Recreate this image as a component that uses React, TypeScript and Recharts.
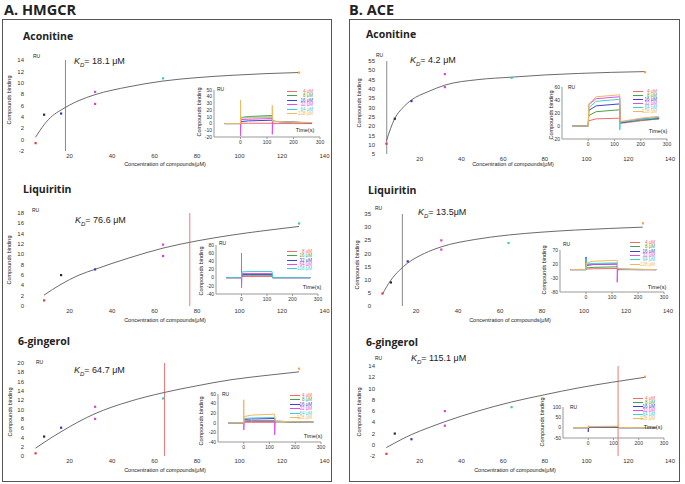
import React from 'react';
import {
  ComposedChart,
  LineChart,
  Line,
  Scatter,
  XAxis,
  YAxis,
  ReferenceLine,
  Cell,
} from 'recharts';

// ---- main binding curves: concentration (μM) vs response (RU) ----
const FIT_X = [4, 8, 12, 16, 24, 32, 48, 64, 80, 96, 112, 128];
const FIT_X_LIQ_A = [8, 12, 16, 24, 32, 48, 64, 80, 96, 112, 128];

const A1_CONC = [4, 8, 16, 32, 32, 64, 128];
const A1_RU = [-0.6, 4.4, 4.6, 8.4, 6.3, 10.8, 11.8];
const A1_FIT = [0.4, 2.6, 4.2, 5.2, 6.8, 7.9, 9.3, 10.3, 10.9, 11.3, 11.6, 11.8];

const A2_CONC = [8, 16, 32, 64, 64, 128];
const A2_RU = [1.1, 6.0, 7.1, 11.9, 9.7, 16.0];
const A2_FIT = [2.1, 3.2, 4.2, 5.9, 7.1, 9.3, 11.2, 12.6, 13.7, 14.6, 15.4];

const A3_CONC = [4, 8, 16, 32, 32, 64, 128];
const A3_RU = [0.6, 4.2, 6.1, 10.6, 8.0, 12.4, 18.8];
const A3_FIT = [1.7, 2.9, 4.1, 5.2, 7.3, 9.1, 11.7, 13.6, 15.1, 16.4, 17.3, 18.1];

const B1_CONC = [4, 8, 16, 32, 32, 64, 128];
const B1_RU = [10.6, 24, 33.5, 48, 41, 46, 49];
const B1_FIT = [12, 24, 30, 34, 38.5, 42, 45, 46.3, 47.5, 48.3, 48.9, 49.3];

const B2_CONC = [4, 8, 16, 32, 32, 64, 128];
const B2_RU = [4.8, 9, 17, 25, 21.5, 24, 31.5];
const B2_FIT = [4.5, 9.8, 13.5, 16.3, 20.0, 22.5, 25.3, 27.0, 28.1, 28.9, 29.5, 30];

const B3_CONC = [4, 8, 16, 32, 32, 64, 128];
const B3_RU = [-1.6, 2, 1, 6, 3.4, 6.7, 12.1];
const B3_FIT = [-0.5, 0.3, 1.1, 1.8, 3.0, 4.1, 6.0, 7.6, 8.9, 10.1, 11.1, 12.0];

const X_TICKS = [20, 40, 60, 80, 100, 120, 140];

// ---- sensorgrams (insets): time (s) vs RU, one row per concentration ----
const SG_T = [-60, 0, 0, 0, 2, 30, 120, 120, 120, 122, 140, 200, 270];
const SG_X_TICKS = [0, 100, 200, 300];

const LBL_6 = ['4 μM', '8 μM', '16 μM', '32 μM', '64 μM', '128 μM'];
const LBL_5 = ['8 μM', '16 μM', '32 μM', '64 μM', '128 μM'];

const A1_SG = [
  [0, 0, 0, 0, 0.5, 0.5, 0.5, 0.5, 0.5, 0, 0, 0, 0],
  [0, 0, 0, 0, 9, 10.5, 12, 12, 12, 4, 3, 2, 1],
  [0, 0, 0, 0, 3, 4, 5, 5, 5, 3, 3, 2, 1],
  [0, 0, 0, -18, 6, 6.5, 7.5, 7.5, -16, 3, 3, 2, 1],
  [0, 0, 0, 0, 9, 9.5, 10, 10, 10, 3, 3, 2, 1.5],
  [0, 0, 35, 0, 8, 8.5, 9, 27, 9, 3, 3, 2, 1.5],
];
const A2_SG = [
  [0, 0, 0, 0, 3, 3, 3, 3, 3, 0, 0, 0, 0],
  [0, 0, 0, 0, 6, 6, 6, 6, 6, 0, 0, 0, 0],
  [0, 0, 0, 0, 8, 8, 8, 8, 8, 0, 0, 0, 0],
  [0, 0, 60, -25, 10, 10, 10, 10, 10, 0, 0, 0, 0],
  [0, 0, 0, 0, 14, 15, 15, 15, 15, 0, 0, 0, 0],
];
const A3_SG = [
  [0, 0, 0, 0, 1, 1, 1, 1, 1, 2, 2, 1.5, 1],
  [0, 0, 0, 0, 3, 3, 3, 3, 3, 2, 2, 1.5, 1],
  [0, 0, 0, 0, 7, 8, 9, 9, 9, 3, 3, 2, 1.5],
  [0, 0, 0, -15, 4, 5, 5, 5, -25, 3, 3, 2, 1.5],
  [0, 0, 0, 0, 9, 10, 11, 11, 11, 3, 3, 2, 1.5],
  [0, 0, 48, 0, 13, 16, 18, 18, 18, 4, 3, 2, 1.5],
];
const B1_SG = [
  [0, 0, 0, 0, 8, 11, 12, 12, 12, 4, 5, 8, 11],
  [0, 0, 0, 0, 16, 22, 25, 25, 25, 5, 6, 9, 11],
  [0, 0, 0, 0, 24, 31, 34, 34, 34, 5, 6, 10, 12],
  [0, 0, 0, 0, 33, 42, 45, 45, 45, 6, 7, 11, 13],
  [0, 0, 0, 0, 28, 38, 41, 41, -6, 6, 7, 10, 13],
  [0, 0, 0, 0, 34, 45, 48, 48, 48, 7, 8, 12, 15],
];
const B2_SG = [
  [0, 0, 0, 0, 2, 3, 4, 4, 4, 0, 0, 0, 0],
  [0, 0, 0, 0, 6, 8, 10, 10, 10, 0, 0, 0, 0],
  [0, 0, 45, 0, 15, 18, 20, 20, 20, 2, 1, 0, 0],
  [0, 0, 0, 0, 18, 19, 20, 20, -45, 2, 1, 0, 0],
  [0, 0, 40, 0, 20, 22, 24, 24, 24, 3, 2, 1, 0],
  [0, 0, 0, 0, 25, 30, 33, 33, 33, 4, 2, 1, 0],
];
const B3_SG = [
  [0, 0, 0, 0, 1, 1, 1, 1, 1, 0, 0, 0, 0],
  [0, 0, 0, 0, 2, 2, 2, 2, 2, 0, 0, 0, 0],
  [0, 0, 0, -20, 3, 3, 3, 3, 3, 0, 0, 0, 0],
  [0, 0, 0, 0, 4, 4, 5, 5, 5, 0, 0, 0, 0],
  [0, 0, 0, 0, 5, 5, 6, 6, 6, 1, 0, 0, 0],
  [0, 0, 10, 0, 6, 6, 7, 20, 7, 1, 1, 0, 0],
];

// colours
const PT6 = ['#e8383d', '#2b2b2b', '#2a3cc8', '#e040d8', '#e040d8', '#3cc8c8', '#e8b040'];
const PT5 = ['#e8383d', '#2b2b2b', '#2a3cc8', '#e040d8', '#e040d8', '#3cc8c8'];
const SG6 = ['#f06a6a', '#4aa04a', '#4040d0', '#e050e0', '#40d0d0', '#f0b860'];
const SG5 = ['#f06a6a', '#4aa04a', '#4040d0', '#e050e0', '#40d0d0'];
const GRAY = '#8a8a8a';
const RED = '#f07878';

const SMALL = '"Liberation Sans", Arial, sans-serif';
const BOLD = '"Open Sans", "Noto Sans", sans-serif';

const range = (a: number, b: number, s: number) => {
  const out: number[] = [];
  for (let v = a; v <= b + 1e-9; v += s) out.push(v);
  return out;
};

function Txt({ x, y, size, bold, anchor = 'left', rotate, italic, children }: any) {
  const tx = anchor === 'left' ? '0' : anchor === 'center' ? '-50%' : '-100%';
  return (
    <div
      style={{
        position: 'absolute',
        left: x,
        top: y,
        transform: `translate(${rotate ? '-50%' : tx}, -50%)${rotate ? ' rotate(-90deg)' : ''}`,
        fontSize: size,
        fontWeight: bold ? 700 : 400,
        fontStyle: italic ? 'italic' : 'normal',
        fontFamily: bold ? BOLD : SMALL,
        whiteSpace: 'nowrap',
        lineHeight: 1.3,
        color: '#222',
      }}
    >
      {children}
    </div>
  );
}

function MainPlot({ p }: any) {
  const [l, t, r, b] = p.box;
  const padL = 20, padT = 4, padR = 10, padB = 12;
  const W = r - l + padL + padR;
  const H = b - t + padT + padB;
  const points = p.conc.map((c: number, i: number) => ({ x: c, y: p.ru[i] }));
  const fit = p.fitX.map((x: number, i: number) => ({ x, y: p.fitY[i] }));
  const tick = { fontSize: 6, fill: '#333', fontFamily: SMALL };
  return (
    <div style={{ position: 'absolute', left: l - padL, top: t - padT }}>
      <ComposedChart width={W} height={H} margin={{ top: padT, right: padR, bottom: 0, left: 0 }}>
        <XAxis
          type="number"
          dataKey="x"
          domain={[0, 140]}
          ticks={X_TICKS}
          interval={0}
          allowDataOverflow
          axisLine={false}
          tickLine={false}
          tickSize={0}
          tickMargin={3}
          height={padB}
          tick={tick}
        />
        <YAxis
          type="number"
          dataKey="y"
          domain={p.yDomain}
          ticks={p.yTicks}
          interval={0}
          allowDataOverflow
          axisLine={false}
          tickLine={false}
          tickSize={0}
          tickMargin={3}
          width={padL}
          tick={tick}
        />
        <ReferenceLine x={p.kd} stroke={p.kdColor} strokeWidth={1} />
        <Line
          data={fit}
          dataKey="y"
          type="monotone"
          stroke="#6b6b6b"
          strokeWidth={1}
          dot={false}
          isAnimationActive={false}
        />
        <Scatter
          data={points}
          dataKey="y"
          isAnimationActive={false}
          shape={(s: any) => (
            <rect x={s.cx - 1} y={s.cy - 1} width={2.2} height={2.2} fill={s.fill} />
          )}
        >
          {points.map((_: any, i: number) => (
            <Cell key={i} fill={p.colors[i]} />
          ))}
        </Scatter>
      </ComposedChart>
    </div>
  );
}

function Inset({ s }: any) {
  const [l, t, r, b] = s.box;
  const padL = 14, padT = 2, padR = 8, padB = 9;
  const W = r - l + padL + padR;
  const H = b - t + padT + padB;
  const rows = SG_T.map((tm, i) => {
    const row: Record<string, number> = { t: tm };
    s.series.forEach((v: number[], k: number) => {
      row['s' + k] = v[i];
    });
    return row;
  });
  const tick = { fontSize: 5, fill: '#333', fontFamily: SMALL };
  const lg = s.legend;
  return (
    <>
      <div style={{ position: 'absolute', left: l - padL, top: t - padT }}>
        <LineChart width={W} height={H} data={rows} margin={{ top: padT, right: padR, bottom: 0, left: 0 }}>
          <XAxis
            type="number"
            dataKey="t"
            domain={[-100, 300]}
            ticks={SG_X_TICKS}
            interval={0}
            allowDataOverflow
            stroke="#999"
            tickSize={2}
            tickMargin={1}
            height={padB}
            tick={tick}
          />
          <YAxis
            type="number"
            domain={s.yDomain}
            ticks={s.yTicks}
            interval={0}
            allowDataOverflow
            stroke="#999"
            tickSize={0}
            tickMargin={2}
            width={padL}
            tick={tick}
          />
          {s.series.map((_: any, k: number) => (
            <Line
              key={k}
              dataKey={'s' + k}
              type="linear"
              stroke={s.colors[k]}
              strokeWidth={1}
              dot={false}
              isAnimationActive={false}
            />
          ))}
        </LineChart>
      </div>
      {s.labels.map((lab: string, k: number) => {
        const y = Math.round(lg.y0 + k * lg.dy);
        return (
          <React.Fragment key={k}>
            <div
              style={{
                position: 'absolute',
                left: lg.lx,
                top: y,
                width: 10,
                height: 1,
                background: s.colors[k],
              }}
            />
            <div
              style={{
                position: 'absolute',
                left: lg.tr,
                top: y + 0.5,
                transform: 'translate(-100%, -50%)',
                fontSize: 4.5,
                lineHeight: 1,
                fontFamily: SMALL,
                color: s.colors[k],
                whiteSpace: 'nowrap',
              }}
            >
              {lab}
            </div>
          </React.Fragment>
        );
      })}
      <Txt x={s.ru[0]} y={s.ru[1]} size={5}>RU</Txt>
      <Txt x={s.time[0]} y={s.time[1]} size={5.5} anchor="center">Time(s)</Txt>
      <Txt x={s.ylab[0]} y={s.ylab[1]} size={5.5} rotate>Compounds binding</Txt>
    </>
  );
}

const PANELS = [
  {
    title: 'Aconitine', tpos: [23, 37],
    box: [26.5, 60, 324, 151], yDomain: [-2, 14], yTicks: range(-2, 14, 2),
    conc: A1_CONC, ru: A1_RU, fitX: FIT_X, fitY: A1_FIT, colors: PT6,
    kd: 18.1, kdColor: GRAY, kdText: '= 18.1 μM', kdPos: [74, 63],
    ruPos: [33, 56], ylab: [10, 100], xlab: [165, 165],
    inset: {
      box: [214, 90, 320, 137], yDomain: [-20, 50], yTicks: range(-20, 50, 10),
      series: A1_SG, colors: SG6, labels: LBL_6,
      legend: { lx: 287, tr: 313, y0: 90.7, dy: 4.5 },
      ru: [217, 89], time: [305, 131], ylab: [200, 112],
    },
  },
  {
    title: 'Liquiritin', tpos: [23, 190],
    box: [26.5, 213, 324, 306], yDomain: [0, 18], yTicks: range(0, 18, 2),
    conc: A2_CONC, ru: A2_RU, fitX: FIT_X_LIQ_A, fitY: A2_FIT, colors: PT5,
    kd: 76.6, kdColor: RED, kdText: '=  76.6 μM', kdPos: [75, 222],
    ruPos: [32, 210], ylab: [10, 260], xlab: [165, 321],
    inset: {
      box: [216, 245, 318, 294], yDomain: [-40, 80], yTicks: range(-40, 80, 20),
      series: A2_SG, colors: SG5, labels: LBL_5,
      legend: { lx: 287, tr: 312, y0: 251, dy: 4.3 },
      ru: [219, 243], time: [312, 288], ylab: [202, 271],
    },
  },
  {
    title: '6-gingerol', tpos: [18, 342],
    box: [26.5, 363, 324, 456], yDomain: [0, 20], yTicks: range(0, 20, 2),
    conc: A3_CONC, ru: A3_RU, fitX: FIT_X, fitY: A3_FIT, colors: PT6,
    kd: 64.7, kdColor: RED, kdText: '= 64.7 μM', kdPos: [74, 372],
    ruPos: [36, 362], ylab: [11, 412], xlab: [165, 471],
    inset: {
      box: [218, 394, 321, 442], yDomain: [-40, 60], yTicks: range(-40, 60, 20),
      series: A3_SG, colors: SG6, labels: LBL_6,
      legend: { lx: 290, tr: 312, y0: 395, dy: 4.4 },
      ru: [222, 394], time: [313, 437], ylab: [202, 421],
    },
  },
  {
    title: 'Aconitine', tpos: [366, 35],
    box: [378, 61, 670, 154], yDomain: [5, 55], yTicks: range(5, 55, 5),
    conc: B1_CONC, ru: B1_RU, fitX: FIT_X, fitY: B1_FIT, colors: PT6,
    kd: 4.2, kdColor: GRAY, kdText: '=  4.2 μM', kdPos: [410, 62],
    ruPos: [376, 55], ylab: [360, 103], xlab: [513, 165],
    inset: {
      box: [562, 87, 667, 139], yDomain: [-20, 60], yTicks: range(-20, 60, 20),
      series: B1_SG, colors: SG6, labels: LBL_6,
      legend: { lx: 633, tr: 657, y0: 90.7, dy: 4.1 },
      ru: [568, 87], time: [658, 132], ylab: [552, 115],
    },
  },
  {
    title: 'Liquiritin', tpos: [368, 191],
    box: [374, 214, 668, 306], yDomain: [0, 35], yTicks: range(0, 35, 5),
    conc: B2_CONC, ru: B2_RU, fitX: FIT_X, fitY: B2_FIT, colors: PT6,
    kd: 13.5, kdColor: GRAY, kdText: '=  13.5μM', kdPos: [418, 214],
    ruPos: [375, 208], ylab: [358, 265], xlab: [510, 321],
    inset: {
      box: [560, 250, 664, 292], yDomain: [-80, 70], yTicks: [-80, -30, 20, 70],
      series: B2_SG, colors: SG6, labels: LBL_6,
      legend: { lx: 630, tr: 655, y0: 241.7, dy: 4.4 },
      ru: [563, 244], time: [657, 288], ylab: [545, 270],
    },
  },
  {
    title: '6-gingerol', tpos: [366, 343],
    box: [378, 366, 670, 456], yDomain: [-2, 14], yTicks: range(-2, 14, 2),
    conc: B3_CONC, ru: B3_RU, fitX: FIT_X, fitY: B3_FIT, colors: PT6,
    kd: 115.1, kdColor: RED, kdText: '= 115.1 μM', kdPos: [411, 360],
    ruPos: [375, 358], ylab: [360, 412], xlab: [515, 471],
    inset: {
      box: [563, 407, 664, 438], yDomain: [-50, 100], yTicks: [-50, 0, 50, 100],
      series: B3_SG, colors: SG6, labels: LBL_6,
      legend: { lx: 633, tr: 655, y0: 398, dy: 4 },
      ru: [570, 407], time: [653, 428], ylab: [543, 422],
    },
  },
];

export default function App() {
  return (
    <div
      style={{
        position: 'absolute',
        left: 0,
        top: 0,
        width: 685,
        height: 484,
        background: '#fff',
        overflow: 'hidden',
      }}
    >
      <Txt x={4} y={10} size={14.5} bold>A. HMGCR</Txt>
      <Txt x={349} y={10} size={14.5} bold>B. ACE</Txt>
      <div style={{ position: 'absolute', left: 2, top: 19, width: 328, height: 461, border: '1.5px solid #555' }} />
      <div style={{ position: 'absolute', left: 349, top: 19, width: 329, height: 461, border: '1.5px solid #555' }} />
      {PANELS.map((p, i) => (
        <React.Fragment key={i}>
          <MainPlot p={p} />
          <Inset s={p.inset} />
          <Txt x={p.tpos[0]} y={p.tpos[1]} size={10.5} bold>{p.title}</Txt>
          <Txt x={p.kdPos[0]} y={p.kdPos[1]} size={9}>
            <i>K</i>
            <sub style={{ fontSize: 6, fontStyle: 'italic' }}>D</sub>
            {p.kdText}
          </Txt>
          <Txt x={p.ruPos[0]} y={p.ruPos[1]} size={5}>RU</Txt>
          <Txt x={p.ylab[0]} y={p.ylab[1]} size={5.5} rotate>Compounds binding</Txt>
          <Txt x={p.xlab[0]} y={p.xlab[1]} size={5.5} anchor="center">Concentration of compounds(μM)</Txt>
        </React.Fragment>
      ))}
    </div>
  );
}
